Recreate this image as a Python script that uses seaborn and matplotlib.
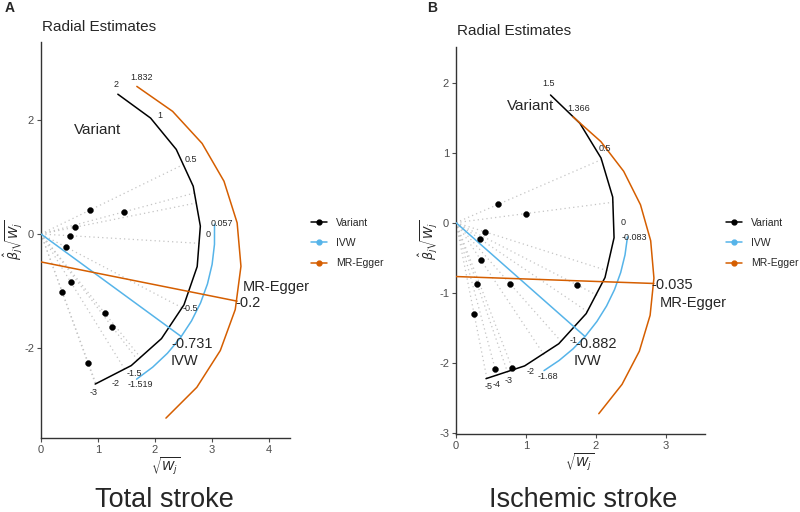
import numpy as np
import pandas as pd
import seaborn as sns
import matplotlib.pyplot as plt
from matplotlib.lines import Line2D

# ---- panel A : total stroke ----
a_sqrt_w = [0.86, 1.46, 0.60, 0.51, 0.44, 0.52, 0.37, 1.12, 1.25, 0.83]
a_beta_w = [0.42, 0.39, 0.12, -0.03, -0.23, -0.84, -1.02, -1.39, -1.63, -2.26]
a_scale_ticks = [2, 1, 0.5, 0, -0.5, -1.5, -2, -3]
a_scale_range = (1.82, -2.77)
a_ivw = -0.731
a_ivw_range = (0.057, -1.519)
a_egger_slope = -0.2
a_egger_int = -0.49
a_egger_range = (1.832, -1.25)
a_radius = (2.8, 3.05, 3.51)   # variant / IVW / MR-Egger scale

# ---- panel B : ischemic stroke ----
b_sqrt_w = [0.60, 1.00, 0.41, 0.34, 0.36, 0.30, 0.77, 1.73, 0.26, 0.56, 0.80]
b_beta_w = [0.26, 0.13, -0.13, -0.23, -0.54, -0.87, -0.87, -0.89, -1.31, -2.09, -2.07]
b_scale_ticks = [1.5, 0.5, 0, -1, -2, -3, -4, -5]
b_scale_range = (1.35, -5.2)
b_ivw = -0.882
b_ivw_range = (-0.083, -1.68)
b_egger_slope = -0.035
b_egger_int = -0.77
b_egger_range = (1.366, -0.96)
b_radius = (2.27, 2.46, 2.83)

BLUE = '#56B4E9'
ORANGE = '#D55E00'

sns.set_style('ticks')
plt.rcParams['font.family'] = ['Liberation Sans', 'DejaVu Sans']
plt.rcParams['mathtext.fontset'] = 'dejavusans'
plt.rcParams['axes.unicode_minus'] = False


def arc(cy, r, hi, lo, n=10):
    ang = np.linspace(np.arctan(hi), np.arctan(lo), n)
    return pd.DataFrame({'x': r * np.cos(ang), 'y': cy + r * np.sin(ang)})


def polar(cy, r, val):
    a = np.arctan(val)
    return r * np.cos(a), cy + r * np.sin(a)


def fmt(v):
    return ('%g' % v)


def draw_panel(ax, sqrt_w, beta_w, ticks, srange, ivw, ivw_range,
               e_slope, e_int, e_range, radius, variant_xy, egger_dy):
    r_var, r_ivw, r_egg = radius
    df = pd.DataFrame({'x': sqrt_w, 'y': beta_w})

    # dotted lines from origin to the variant scale
    for xv, yv in zip(sqrt_w, beta_w):
        ex, ey = polar(0, r_var, yv / xv)
        ax.plot([0, ex], [0, ey], color='#C4C4C4', lw=0.9, ls=(0, (1, 2.5)), zorder=1)

    # scales
    sns.lineplot(data=arc(0, r_var, *srange), x='x', y='y', sort=False,
                 color='black', lw=1.1, ax=ax, zorder=3)
    sns.lineplot(data=arc(0, r_ivw, *ivw_range), x='x', y='y', sort=False,
                 color=BLUE, lw=1.1, ax=ax, zorder=3)
    sns.lineplot(data=arc(e_int, r_egg, *e_range), x='x', y='y', sort=False,
                 color=ORANGE, lw=1.1, ax=ax, zorder=3)

    # estimate lines
    ix, iy = polar(0, r_ivw, ivw)
    ax.plot([0, ix], [0, iy], color=BLUE, lw=1.1, zorder=3)
    gx, gy = polar(e_int, r_egg, e_slope)
    ax.plot([0, gx], [e_int, gy], color=ORANGE, lw=1.1, zorder=3)

    sns.scatterplot(data=df, x='x', y='y', color='black', s=18,
                    edgecolor='black', linewidth=0.3, ax=ax, zorder=4)

    # scale labels
    for t in ticks:
        tx, ty = polar(0, r_var * 1.05, t)
        ax.text(tx, ty, fmt(t), fontsize=6.5, ha='center', va='center')
    for t in ivw_range:
        tx, ty = polar(0, r_ivw * 1.04, t)
        ax.text(tx, ty, fmt(t), fontsize=6.5, ha='center', va='center')
    tx, ty = polar(e_int, r_egg * 1.05, e_range[0])
    ax.text(tx, ty, fmt(e_range[0]), fontsize=6.5, ha='center', va='center')

    ax.annotate(fmt(ivw), (ix, iy), xytext=(-10, -7), textcoords='offset pixels',
                fontsize=10.5, ha='left', va='center')
    ax.annotate('IVW', (ix, iy), xytext=(-11, -24), textcoords='offset pixels',
                fontsize=10.5, ha='left', va='center')
    ax.annotate(fmt(e_slope), (gx, gy), xytext=(-2, -2), textcoords='offset pixels',
                fontsize=10.5, ha='left', va='center')
    ax.annotate('MR-Egger', (gx, gy), xytext=(6, egger_dy), textcoords='offset pixels',
                fontsize=10.5, ha='left', va='center')
    ax.text(variant_xy[0], variant_xy[1], 'Variant', fontsize=11, ha='center', va='center')

    ax.set_xlabel('')
    ax.set_ylabel('')
    sns.despine(ax=ax)
    for s in ('left', 'bottom'):
        ax.spines[s].set_color('#333333')
        ax.spines[s].set_linewidth(1.0)
    ax.tick_params(colors='#4D4D4D', labelsize=8, length=3, width=0.8, pad=2)


fig = plt.figure(figsize=(8, 5.12), dpi=100)
ax_a = fig.add_axes([41 / 800, 1 - 438 / 512, 249 / 800, 396 / 512])
ax_b = fig.add_axes([456 / 800, 1 - 434 / 512, 249 / 800, 387 / 512])

draw_panel(ax_a, a_sqrt_w, a_beta_w, a_scale_ticks, a_scale_range, a_ivw, a_ivw_range,
           a_egger_slope, a_egger_int, a_egger_range, a_radius, (1.0, 1.82), 14)
draw_panel(ax_b, b_sqrt_w, b_beta_w, b_scale_ticks, b_scale_range, b_ivw, b_ivw_range,
           b_egger_slope, b_egger_int, b_egger_range, b_radius, (1.07, 1.66), -20)

ax_a.set_xlim(0, 4.37)
ax_a.set_ylim(-3.58, 3.37)
ax_a.set_xticks([0, 1, 2, 3, 4])
ax_a.set_yticks([-2, 0, 2])
ax_b.set_xlim(0, 3.56)
ax_b.set_ylim(-3.02, 2.51)
ax_b.set_xticks([0, 1, 2, 3])
ax_b.set_yticks([-3, -2, -1, 0, 1, 2])

handles = [Line2D([], [], color=c, marker='o', markersize=3.5, lw=1.1)
           for c in ('black', BLUE, ORANGE)]
labels = ['Variant', 'IVW', 'MR-Egger']
for ax, lx in ((ax_a, 311), (ax_b, 726)):
    ax.legend(handles, labels, loc='center left', bbox_to_anchor=(lx / 800, 1 - 243 / 512),
              bbox_transform=fig.transFigure, frameon=False, fontsize=7.5,
              handlelength=1.55, handletextpad=0.85, labelspacing=1.0,
              borderpad=0, borderaxespad=0)

# titles, axis labels, panel letters
fig.text(42 / 800, 1 - 27 / 512, 'Radial Estimates', fontsize=11, va='center')
fig.text(457 / 800, 1 - 31 / 512, 'Radial Estimates', fontsize=11, va='center')
fig.text(10 / 800, 1 - 8 / 512, 'A', fontsize=10, fontweight='bold', ha='center', va='center')
fig.text(432 / 800, 1 - 8 / 512, 'B', fontsize=10, fontweight='bold', ha='center', va='center')
ylab = r'$\hat{\beta}_j\sqrt{W_j}$'
xlab = r'$\sqrt{W_j}$'
fig.text(13 / 800, 1 - 240 / 512, ylab, fontsize=9, rotation=90, ha='center', va='center')
fig.text(428 / 800, 1 - 240 / 512, ylab, fontsize=9, rotation=90, ha='center', va='center')
fig.text(166 / 800, 1 - 467 / 512, xlab, fontsize=9, ha='center', va='center')
fig.text(580 / 800, 1 - 463 / 512, xlab, fontsize=9, ha='center', va='center')
fig.text(164 / 800, 1 - 500 / 512, 'Total stroke', fontsize=19.5, ha='center', va='center')
fig.text(583 / 800, 1 - 500 / 512, 'Ischemic stroke', fontsize=19.5, ha='center', va='center')

fig.savefig('out.png', dpi=100)
